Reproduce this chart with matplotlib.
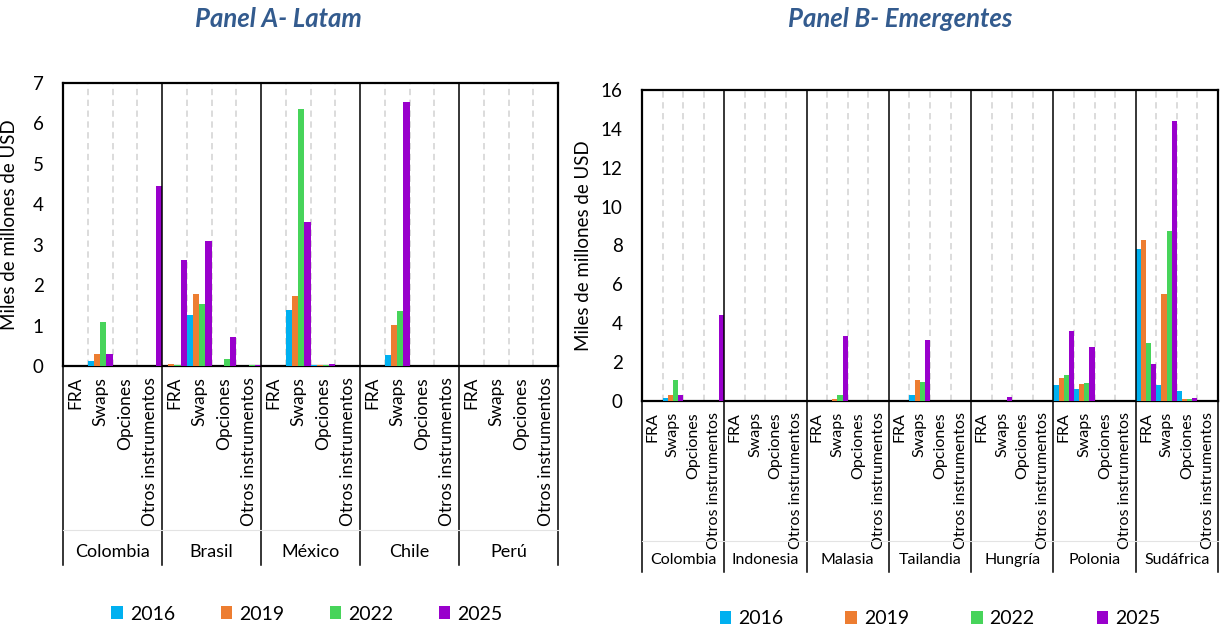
import numpy as np
import matplotlib
matplotlib.use("Agg")
import matplotlib.pyplot as plt
from matplotlib.patches import Patch
import matplotlib.transforms as mtransforms

plt.rcParams['font.family'] = ['Lato', 'DejaVu Sans']

# --- data ---
instrumentos = ["FRA", "Swaps", "Opciones", "Otros instrumentos"]
years = ["2016", "2019", "2022", "2025"]
colors = ["#00B0F0", "#ED7D31", "#47D45A", "#9900CC"]

# Panel A - Latam (per country: FRA, Swaps, Opciones, Otros)
paises_a = ["Colombia", "Brasil", "México", "Chile", "Perú"]
a_2016 = [0, 0.13, 0, 0,   0.01, 1.25, 0, 0,      0, 1.39, 0.03, 0,   0, 0.27, 0, 0,   0, 0, 0, 0]
a_2019 = [0, 0.30, 0, 0,   0.04, 1.77, 0, 0,      0, 1.73, 0.03, 0,   0, 1.01, 0, 0,   0, 0, 0, 0]
a_2022 = [0, 1.08, 0, 0,   0.02, 1.53, 0.18, 0.02, 0, 6.36, 0.03, 0,  0, 1.35, 0, 0,   0, 0, 0, 0]
a_2025 = [0, 0.30, 0, 4.44, 2.61, 3.09, 0.71, 0.02, 0, 3.57, 0.05, 0, 0, 6.54, 0, 0,   0, 0, 0, 0]

# Panel B - Emergentes
paises_b = ["Colombia", "Indonesia", "Malasia", "Tailandia", "Hungría", "Polonia", "Sudáfrica"]
b_2016 = [0, 0.14, 0, 0,    0, 0, 0, 0,     0, 0, 0.02, 0,     0, 0.29, 0, 0,  0, 0.01, 0, 0,  0.82, 0.62, 0, 0,  7.80, 0.84, 0.51, 0]
b_2019 = [0, 0.31, 0, 0,    0, 0, 0, 0,     0, 0.08, 0, 0.02,  0, 1.08, 0, 0,  0, 0, 0, 0,     1.20, 0.87, 0, 0,  8.27, 5.50, 0.12, 0]
b_2022 = [0, 1.08, 0, 0,    0, 0.02, 0, 0,  0, 0.29, 0, 0,     0, 0.96, 0, 0,  0, 0.01, 0, 0,  1.36, 0.93, 0, 0,  2.98, 8.75, 0.10, 0]
b_2025 = [0, 0.31, 0, 4.43, 0, 0, 0, 0,     0, 3.33, 0, 0,     0, 3.16, 0, 0,  0, 0.19, 0, 0,  3.60, 2.78, 0, 0,  1.89, 14.42, 0.15, 0.02]

title_color = "#335B8E"
grid_color = "#D9D9D9"


def draw_panel(ax, paises, series, ymax, yticks, tick_fs, country_fs, sep_depth, country_y, mid_y):
    n = len(paises) * len(instrumentos)
    x = np.arange(n)
    w = 1.0 / len(series)
    for j, vals in enumerate(series):
        ax.bar(x - 0.5 + (j + 0.5) * w, vals, width=w, color=colors[j], linewidth=0, zorder=3)
    ax.set_xlim(-0.5, n - 0.5)
    ax.set_ylim(0, ymax)
    ax.set_yticks(yticks)
    ax.tick_params(axis='y', length=0, labelsize=13.5, pad=14)
    ax.set_xticks(x)
    ax.set_xticklabels(instrumentos * len(paises), rotation=90, fontsize=tick_fs, va='top')
    ax.tick_params(axis='x', length=0, pad=8)
    for s in ax.spines.values():
        s.set_linewidth(1.6)
        s.set_color("black")
    ax.set_ylabel("Miles de millones de USD", fontsize=13.5)

    # dashed gridlines between instruments, solid lines between countries
    trans = mtransforms.blended_transform_factory(ax.transData, ax.transAxes)
    for k in range(1, n):
        if k % len(instrumentos) == 0:
            ax.plot([k - 0.5, k - 0.5], [0, 1], color="black", lw=1.1, transform=trans, zorder=4)
        else:
            ax.plot([k - 0.5, k - 0.5], [0, 1], color=grid_color, lw=1.3, ls=(0, (3.5, 2.5)),
                    transform=trans, zorder=1)
    for k in range(0, n + 1, len(instrumentos)):
        ax.plot([k - 0.5, k - 0.5], [0, -sep_depth], color="black", lw=1.1,
                transform=trans, clip_on=False)
    ax.plot([-0.5, n - 0.5], [-mid_y, -mid_y], color="#E3E3E3", lw=0.8,
            transform=trans, clip_on=False)
    for i, p in enumerate(paises):
        cx = i * len(instrumentos) + (len(instrumentos) - 1) / 2
        ax.text(cx, -country_y, p, transform=trans, ha='center', va='center',
                fontsize=country_fs)


fig = plt.figure(figsize=(12.22, 6.28), dpi=100)

ax_a = fig.add_axes([63 / 1222, 1 - 366 / 628, 495 / 1222, 283 / 628])
draw_panel(ax_a, paises_a, [a_2016, a_2019, a_2022, a_2025], 7, range(0, 8),
           12.5, 13, (565 - 366) / 283, (552 - 366) / 283, (530 - 366) / 283)
ax_a.yaxis.set_label_coords(-0.091, 0.5)

ax_b = fig.add_axes([642 / 1222, 1 - 401 / 628, 576 / 1222, 311 / 628])
draw_panel(ax_b, paises_b, [b_2016, b_2019, b_2022, b_2025], 16, range(0, 17, 2),
           11.5, 11.5, (572 - 401) / 311, (560 - 401) / 311, (541 - 401) / 311)
ax_b.yaxis.set_label_coords(-0.087, 0.5)

fig.text(278 / 1222, 1 - 19 / 628, "Panel A- Latam", ha='center', va='center',
         fontsize=18.5, fontweight='bold', fontstyle='italic', color=title_color)
fig.text(900 / 1222, 1 - 19 / 628, "Panel B- Emergentes", ha='center', va='center',
         fontsize=18.5, fontweight='bold', fontstyle='italic', color=title_color)

handles = [Patch(facecolor=c, edgecolor='none', label=y) for c, y in zip(colors, years)]
fig.legend(handles=handles, loc='center', bbox_to_anchor=(307 / 1222, 1 - 614 / 628), ncol=4,
           frameon=False, fontsize=14, handlelength=0.6, handleheight=0.6,
           handletextpad=0.35, columnspacing=2.34)
fig.legend(handles=handles, loc='center', bbox_to_anchor=(940 / 1222, 1 - 619 / 628), ncol=4,
           frameon=False, fontsize=14, handlelength=0.6, handleheight=0.6,
           handletextpad=0.35, columnspacing=3.19)

fig.savefig("out.png", dpi=100)
